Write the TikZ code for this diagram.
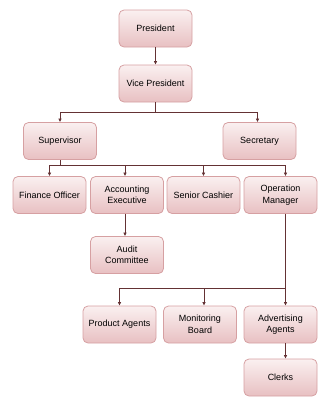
\documentclass[tikz,border=0pt]{standalone}
\usepackage{fontspec}
\setmainfont{Liberation Sans}
\usetikzlibrary{arrows.meta}
\definecolor{boxtop}{RGB}{250,240,240}
\definecolor{boxbot}{RGB}{232,192,194}
\definecolor{boxline}{RGB}{214,160,162}
\definecolor{linkcol}{RGB}{100,50,52}
\begin{document}
\begin{tikzpicture}[x=1pt,y=-1pt,
  post/.style={draw=boxline,line width=0.8pt,rounded corners=5pt,
    top color=boxtop,bottom color=boxbot,minimum width=73pt,minimum height=37pt,
    inner sep=1pt,align=center,font=\fontsize{9}{11.5}\selectfont},
  link/.style={draw=linkcol,line width=0.9pt},
  >={Latex[length=3.5pt,width=3.5pt]}]
\useasboundingbox (0,0) rectangle (336,410);
\node[post] (pres) at (155.5,28.5) {President};
\node[post] (vp) at (155.5,83.5) {Vice President};
\node[post] (sup) at (60,141) {Supervisor};
\node[post] (sec) at (259.5,141) {Secretary};
\node[post] (fin) at (49.5,195) {Finance Officer};
\node[post] (acc) at (127,195) {Accounting\\Executive};
\node[post] (cash) at (203.5,195) {Senior Cashier};
\node[post] (op) at (280.5,195) {Operation\\Manager};
\node[post] (audit) at (127,255) {Audit\\Committee};
\node[post] (prod) at (119.5,324.5) {Product Agents};
\node[post] (mon) at (200,324.5) {Monitoring\\Board};
\node[post] (adv) at (280.5,324.5) {Advertising\\Agents};
\node[post] (clerks) at (280.5,377.5) {Clerks};
\draw[link,->] (pres) -- (vp);
\draw[link] (vp.south) -- ++(0,10) coordinate (vpj);
\draw[link,->] (vpj) -| (sup.north);
\draw[link,->] (vpj) -| ([xshift=-2pt]sec.north);
\draw[link] (sup.south) -- ++(0,6) coordinate (supj);
\draw[link,->] (supj) -| (fin.north);
\draw[link,->] (supj) -| ([xshift=-2pt]acc.north);
\draw[link,->] (supj) -| (cash.north);
\draw[link,->] (supj) -| ([xshift=5pt]op.north);
\draw[link,->] ([xshift=-2pt]acc.south) -- ([xshift=-2pt]audit.north);
\draw[link] ([xshift=5pt]op.south) -- ++(0,75) coordinate (opj);
\draw[link,->] (opj) -| (prod.north);
\draw[link,->] (opj) -| ([xshift=4pt]mon.north);
\draw[link,->] (opj) -- ([xshift=5pt]adv.north);
\draw[link,->] ([xshift=5pt]adv.south) -- ([xshift=5pt]clerks.north);
\end{tikzpicture}
\end{document}
